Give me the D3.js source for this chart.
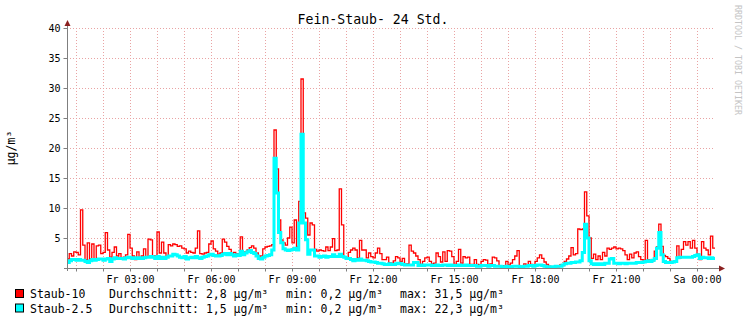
<!DOCTYPE html>
<html><head><meta charset="utf-8">
<script src="https://cdn.jsdelivr.net/npm/d3@7"></script>
<style>
body{margin:0;background:#fff}
svg{display:block}
text{font-family:"DejaVu Sans Mono",monospace}
</style>
</head><body>
<svg id="c" width="747" height="322"></svg>
<script>
const title = "Fein-Staub- 24 Std.";
const yLabel = "µg/m³";
const watermark = "RRDTOOL / TOBI OETIKER";
const yTicks = [5, 10, 15, 20, 25, 30, 35, 40];
const dayNames = ["So", "Mo", "Di", "Mi", "Do", "Fr", "Sa"];
const seriesNames = ["Staub-10", "Staub-2.5"];
const seriesColors = ["#ff0000", "#00ffff"];
const legendAvg = ["Durchschnitt: 2,8 µg/m³", "Durchschnitt: 1,5 µg/m³"];
const legendMin = ["min: 0,2 µg/m³", "min: 0,2 µg/m³"];
const legendMax = ["max: 31,5 µg/m³", "max: 22,3 µg/m³"];
const startTime = new Date(2017, 0, 13, 0, 40);   // Fr 00:40
const stepMinutes = 5;

const staub10 = [
 1.5,2.4,2.0,2.7,2.6,2.2,9.7,3.8,1.4,4.2,1.5,4.0,
 1.5,3.7,3.8,2.4,2.6,5.9,3.0,1.8,2.6,3.5,2.0,2.4,
 1.5,1.8,2.2,5.6,3.3,2.0,1.4,2.7,1.7,2.0,3.2,1.8,
 4.8,4.7,1.8,2.0,6.0,2.5,4.3,2.5,1.9,3.9,3.7,4.0,
 3.9,3.6,3.7,3.3,3.2,2.5,2.8,2.6,2.5,3.3,6.2,2.4,
 2.3,2.5,2.6,4.0,4.5,3.2,2.8,2.3,2.5,4.8,4.3,3.6,
 3.1,2.3,2.6,2.4,2.3,5.2,2.3,2.7,3.0,3.4,3.7,3.3,
 2.5,2.0,2.0,3.2,3.5,3.6,3.7,3.9,23.0,16.5,8.0,4.7,
 4.2,3.8,5.0,6.8,4.2,8.0,3.6,11.1,31.5,9.2,8.3,5.5,
 7.5,7.2,3.1,2.8,3.0,2.9,2.8,3.5,2.9,3.5,4.9,2.9,
 3.0,13.2,7.2,1.9,1.7,2.6,3.0,3.3,3.0,1.7,4.6,3.0,
 3.0,1.7,2.5,1.9,1.7,2.5,3.3,2.4,1.4,1.4,1.8,0.9,
 0.8,1.2,1.9,1.7,1.1,1.6,0.6,0.7,3.8,2.8,2.5,2.0,
 1.4,0.6,1.1,1.7,1.8,1.1,0.7,0.8,2.5,1.9,1.0,2.7,
 1.1,2.9,2.8,1.9,0.6,1.1,3.1,0.8,1.9,1.7,1.8,0.6,
 0.6,1.4,0.6,0.5,1.1,1.4,1.3,0.6,0.7,1.8,1.7,1.2,
 0.3,0.2,0.4,1.1,0.5,0.8,1.4,2.0,2.9,0.3,0.2,0.7,
 0.4,1.1,0.6,0.4,1.1,1.7,2.2,1.6,1.0,0.6,0.3,0.2,
 0.2,0.2,0.2,0.5,0.4,1.1,1.5,2.0,3.4,2.2,2.4,6.5,
 6.4,6.5,12.7,8.7,5.0,1.6,2.3,1.4,2.0,1.4,2.6,2.0,
 3.3,3.1,3.3,3.5,3.2,3.3,3.2,2.9,2.2,1.4,2.3,1.7,
 2.5,2.7,1.9,1.4,1.3,4.6,1.4,1.1,1.2,2.8,3.5,7.3,
 3.6,2.1,1.9,1.6,1.1,1.0,1.2,3.7,1.7,3.1,4.4,3.8,
 4.4,3.3,4.6,3.3,2.3,1.4,4.4,3.3,3.0,2.2,5.3,3.3
];
const staub25 = [
 0.9,1.2,1.4,1.4,1.3,1.4,1.3,1.3,1.1,0.9,1.2,1.4,
 1.3,1.4,1.5,1.5,1.3,1.5,1.6,1.1,1.5,1.7,1.6,1.6,
 1.6,1.5,1.7,1.8,1.7,1.6,1.7,1.6,1.7,1.6,1.7,1.8,
 1.8,1.9,1.8,1.6,1.9,1.6,1.8,1.6,1.8,2.0,2.0,2.3,
 2.2,2.0,1.8,1.7,1.9,1.5,1.7,1.8,1.7,1.9,1.7,1.6,
 1.8,1.9,2.0,2.2,2.3,2.1,2.0,2.0,2.1,2.3,2.4,2.2,
 2.4,2.2,2.0,2.2,2.1,2.8,2.2,2.5,2.7,2.9,2.6,2.4,
 2.0,1.6,1.5,1.8,2.0,2.1,2.2,3.0,18.3,12.5,5.9,4.2,
 3.2,3.0,2.9,3.0,3.1,3.3,3.0,7.5,22.3,7.5,4.7,2.3,
 3.0,3.0,2.0,2.0,1.8,1.9,2.0,1.8,1.9,1.9,2.2,1.9,
 1.9,2.3,1.9,1.8,1.6,1.6,1.4,1.2,1.4,1.3,1.5,1.3,
 1.3,1.2,1.1,1.0,1.0,0.9,0.8,0.8,0.7,0.6,0.6,0.7,
 0.6,0.6,0.7,0.8,0.7,0.6,0.5,0.5,0.5,0.5,0.9,0.9,
 0.4,0.5,0.4,0.5,0.5,0.5,0.4,0.4,0.5,0.4,0.4,0.5,
 0.5,0.4,0.5,0.4,0.4,0.4,0.5,0.4,0.4,0.5,0.4,0.4,
 0.4,0.4,0.3,0.3,0.4,0.4,0.4,0.3,0.4,0.4,0.3,0.3,
 0.3,0.2,0.2,0.3,0.2,0.2,0.3,0.3,0.3,0.2,0.2,0.3,
 0.3,0.4,0.4,0.3,0.4,0.5,0.5,0.4,0.3,0.2,0.2,0.2,
 0.2,0.3,0.3,0.3,0.5,0.7,0.8,0.8,0.9,0.9,1.0,1.0,
 1.2,2.6,7.3,5.0,1.2,0.7,0.6,0.7,0.6,0.7,0.6,0.8,
 0.8,1.5,1.6,0.8,0.8,0.7,0.8,0.8,0.7,0.8,0.8,0.8,
 0.8,0.9,0.9,0.9,1.0,1.1,1.2,1.1,1.3,1.6,3.3,5.9,
 2.2,1.1,0.9,0.9,0.9,1.0,1.1,1.7,1.8,1.8,1.8,1.8,
 1.8,1.8,1.9,2.1,2.2,1.6,1.8,1.7,1.7,1.6,1.7,1.6
];

const svg = d3.select("#c");
const L = 67, R = 715, T = 28, B = 268;
const endTime = new Date(startTime.getTime() + staub10.length * stepMinutes * 60000);
const x = d3.scaleTime().domain([startTime, endTime]).range([L, R]);
const y = d3.scaleLinear().domain([0, 40]).range([B, T]);
const gridColor = "#e9a3a3";
const axisColor = "#7f7f7f";
const arrowColor = "#8b2020";

svg.append("rect").attr("width", 747).attr("height", 322).attr("fill", "#fff");

// grid
const hours = d3.timeHour.every(1).range(startTime, endTime);
svg.append("g").selectAll("line").data(hours).join("line")
  .attr("x1", d => Math.round(x(d)) + 0.5).attr("x2", d => Math.round(x(d)) + 0.5)
  .attr("y1", T).attr("y2", B)
  .attr("stroke", gridColor).attr("stroke-dasharray", "1,2").attr("shape-rendering", "crispEdges");
svg.append("g").selectAll("line").data(yTicks).join("line")
  .attr("x1", L).attr("x2", R)
  .attr("y1", d => Math.round(y(d)) + 0.5).attr("y2", d => Math.round(y(d)) + 0.5)
  .attr("stroke", gridColor).attr("stroke-dasharray", "1,2").attr("shape-rendering", "crispEdges");

// series
function series(vals) {
  const pts = vals.map((v, i) => [new Date(startTime.getTime() + i * stepMinutes * 60000), v]);
  pts.push([endTime, vals[vals.length - 1]]);
  return pts;
}
const line = d3.line().x(d => x(d[0])).y(d => y(d[1])).curve(d3.curveStepAfter);
svg.append("path").attr("d", line(series(staub10))).attr("fill", "none")
  .attr("stroke", seriesColors[0]).attr("stroke-width", 1.3);
svg.append("path").attr("d", line(series(staub25))).attr("fill", "none")
  .attr("stroke", seriesColors[1]).attr("stroke-width", 3);

// axes
const yAxis = d3.axisLeft(y).tickValues(yTicks).tickSize(4).tickPadding(3);
const gy = svg.append("g").attr("transform", `translate(${L + 0.5},0)`).call(yAxis);
gy.select(".domain").remove();
gy.selectAll("line").attr("stroke", axisColor);
gy.selectAll("text").attr("font-size", 10).attr("fill", "#000").attr("font-family", "DejaVu Sans Mono");

const xAxis = d3.axisBottom(x).ticks(d3.timeHour.every(1)).tickSize(3).tickPadding(4)
  .tickFormat(d => d.getHours() % 3 === 0 ? dayNames[d.getDay()] + " " + d3.timeFormat("%H:%M")(d) : "");
const gx = svg.append("g").attr("transform", `translate(0,${B + 0.5})`).call(xAxis);
gx.select(".domain").remove();
gx.selectAll("line").attr("stroke", axisColor);
gx.selectAll("text").attr("font-size", 10).attr("fill", "#000").attr("font-family", "DejaVu Sans Mono");

svg.append("line").attr("x1", L + 0.5).attr("x2", L + 0.5).attr("y1", 24).attr("y2", B + 3)
  .attr("stroke", axisColor);
svg.append("line").attr("x1", L - 3).attr("x2", 721).attr("y1", B + 0.5).attr("y2", B + 0.5)
  .attr("stroke", axisColor);
svg.append("path").attr("d", `M${L - 2.5},${26} L${L + 3.5},${26} L${L + 0.5},${20} Z`).attr("fill", arrowColor);
svg.append("path").attr("d", `M${719},${B - 2.5} L${719},${B + 3.5} L${725},${B + 0.5} Z`).attr("fill", arrowColor);

// title, labels
svg.append("text").attr("x", 373).attr("y", 24).attr("text-anchor", "middle")
  .attr("font-size", 13.2).text(title);
svg.append("text").attr("transform", "translate(14.5,148) rotate(-90)").attr("text-anchor", "middle")
  .attr("font-size", 11.5).text(yLabel);
svg.append("text").attr("transform", "translate(735,5) rotate(90)").attr("font-size", 8.3)
  .attr("fill", "#c4c4c4").text(watermark);

// legend
const lg = svg.append("g");
seriesNames.forEach((n, i) => {
  const by = 289 + i * 14.5;
  lg.append("rect").attr("x", 15.5).attr("y", by + 0.5).attr("width", 8).attr("height", 8)
    .attr("fill", seriesColors[i]).attr("stroke", "#000");
  const ty = 298 + i * 14.5;
  lg.append("text").attr("x", 30).attr("y", ty).attr("font-size", 11.5).text(n);
  lg.append("text").attr("x", 109).attr("y", ty).attr("font-size", 11.5).text(legendAvg[i]);
  lg.append("text").attr("x", 286).attr("y", ty).attr("font-size", 11.5).text(legendMin[i]);
  lg.append("text").attr("x", 400).attr("y", ty).attr("font-size", 11.5).text(legendMax[i]);
});
</script>
</body></html>
